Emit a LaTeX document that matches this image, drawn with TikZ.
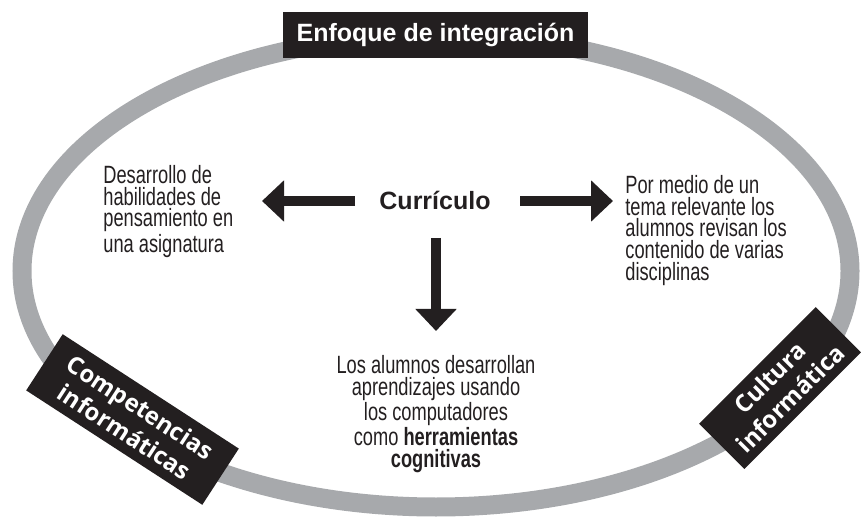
\documentclass[tikz,border=0pt]{standalone}
\usepackage{fontspec}
\setmainfont{Liberation Sans}[FakeStretch=0.73]
\newfontfamily\headfont{Liberation Sans}
\newfontfamily\tagfont{Open Sans}
\usetikzlibrary{arrows.meta}
\definecolor{ring}{HTML}{A7A9AC}
\definecolor{ink}{HTML}{231F20}

\begin{document}
\begin{tikzpicture}
[
    x=0.5pt, y=-0.5pt,
    every node/.style={text=ink},
    body/.style={font=\fontsize{12.5}{10.85}\selectfont, inner sep=0pt},
    head/.style={font=\headfont\bfseries\fontsize{12.5}{15}\selectfont},
    banner/.style={head, fill=ink, text=white, minimum width=152.5pt, minimum height=23pt},
    tag/.style={fill=ink, text=white, font=\tagfont\bfseries\fontsize{12}{14.5}\selectfont, align=center, inner sep=0pt},
    bigarrow/.style={draw=ink, line width=5pt, -{Triangle[length=11pt,width=20pt]}},
]
\useasboundingbox (0,0) rectangle (862,518);
\draw[ring, line width=9.5pt] (436,271) ellipse [x radius=414, y radius=236];

\node[banner] (enfoque) at (435.5,35) {Enfoque de integración};
\node[head, anchor=base, inner sep=0pt] (curr) at (435,210) {Currículo};

\node[body, align=left, anchor=north west] (desarrollo) at (103,165)
    {Desarrollo de\\habilidades de\\pensamiento en\\una asignatura};
\node[body, align=left, anchor=north west] (tema) at (625,175)
    {Por medio de un\\tema relevante los\\alumnos revisan los\\contenido de varias\\disciplinas};
\node[body, align=center, anchor=north] (alumnos) at (436,355)
    {Los alumnos desarrollan\\aprendizajes usando\\los computadores\\como \textbf{herramientas}\\\textbf{cognitivas}};

\node[tag, minimum width=105pt, minimum height=33.5pt, rotate=-33] (competencias) at (132.5,419.5)
    {Competencias\\informáticas};
\node[tag, minimum width=82.5pt, minimum height=32pt, rotate=45] (cultura) at (780,388)
    {Cultura\\informática};

\coordinate (izq0) at (355,201);
\coordinate (izq1) at (262,201);
\coordinate (der0) at (520,201);
\coordinate (der1) at (613,201);
\coordinate (aba0) at (436,238);
\coordinate (aba1) at (436,331);
\draw[bigarrow] (izq0) -- (izq1);
\draw[bigarrow] (der0) -- (der1);
\draw[bigarrow] (aba0) -- (aba1);
\end{tikzpicture}
\end{document}
